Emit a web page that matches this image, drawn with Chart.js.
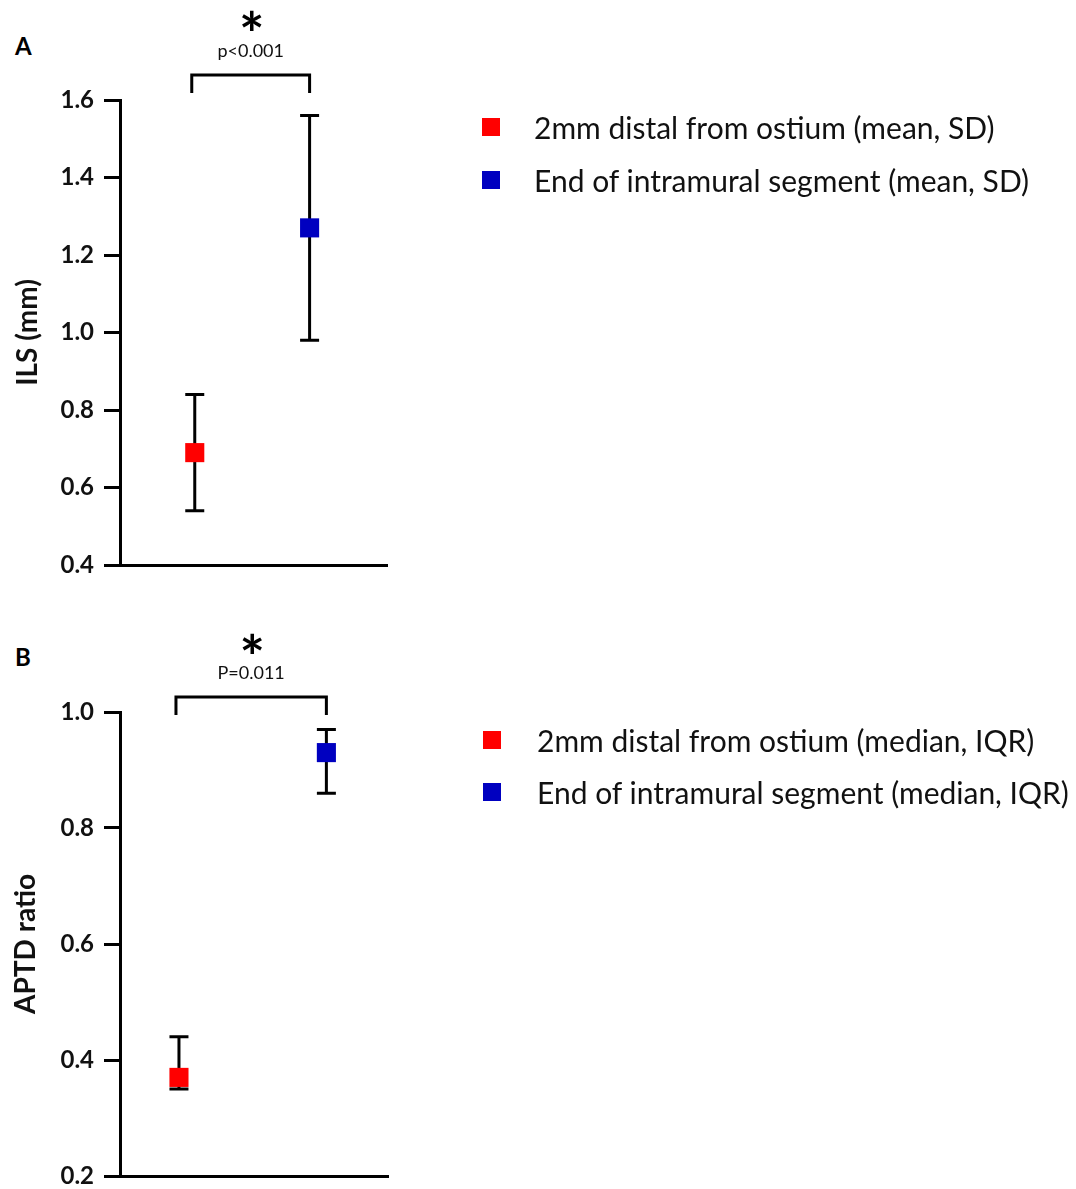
<!DOCTYPE html>
<html>
<head>
<meta charset="utf-8">
<script src="https://cdn.jsdelivr.net/npm/chart.js@4.4.1/dist/chart.umd.min.js"></script>
<style>
html,body{margin:0;padding:0;background:#fff;}
#wrap{position:relative;width:1076px;height:1189px;overflow:hidden;font-family:Lato, "Open Sans", sans-serif;background:#fff;}
canvas{position:absolute;left:0;}
.row{position:absolute;display:flex;align-items:center;height:40px;font-size:30px;color:#111;white-space:nowrap;}
.sw{width:18px;height:18px;flex:none;}
.panel{position:absolute;font-weight:bold;font-size:24px;color:#000;line-height:1;}
</style>
</head>
<body>
<div id="wrap">
  <div class="panel" style="left:15px;top:34px;">A</div>
  <div class="panel" style="left:15px;top:645px;">B</div>
  <canvas id="cA" width="1076" height="595" style="top:0;"></canvas>
  <canvas id="cB" width="1076" height="625" style="top:595px;"></canvas>
  <div id="legA"></div>
  <div id="legB"></div>
</div>
<script>
// ---- data ----
const categories = ['2mm distal from ostium', 'End of intramural segment'];
const seriesColors = ['#ff0000', '#0000c0'];

const ilsMean = [0.69, 1.27];
const ilsSdLow = [0.54, 0.98];
const ilsSdHigh = [0.84, 1.56];
const ilsTicks = [0.4, 0.6, 0.8, 1.0, 1.2, 1.4, 1.6];

const aptdMedian = [0.37, 0.93];
const aptdIqrLow = [0.35, 0.86];
const aptdIqrHigh = [0.44, 0.97];
const aptdTicks = [0.2, 0.4, 0.6, 0.8, 1.0];

const legendA = ['2mm distal from ostium (mean, SD)', 'End of intramural segment (mean, SD)'];
const legendB = ['2mm distal from ostium (median, IQR)', 'End of intramural segment (median, IQR)'];
const pValueA = 'p<0.001';
const pValueB = 'P=0.011';
const yTitleA = 'ILS (mm)';
const yTitleB = 'APTD ratio';

// ---- helpers ----
function errorBarPlugin(lows, highs) {
  return {
    id: 'errorBars',
    beforeDatasetsDraw(chart) {
      const ctx = chart.ctx, xs = chart.scales.x, ys = chart.scales.y;
      ctx.save();
      ctx.strokeStyle = '#000';
      ctx.lineWidth = 3;
      ctx.lineCap = 'butt';
      lows.forEach((lo, i) => {
        const x = xs.getPixelForValue(i + 1);
        const yl = ys.getPixelForValue(lo), yh = ys.getPixelForValue(highs[i]);
        ctx.beginPath();
        ctx.moveTo(x, yl); ctx.lineTo(x, yh);
        ctx.moveTo(x - 9.5, yl); ctx.lineTo(x + 9.5, yl);
        ctx.moveTo(x - 9.5, yh); ctx.lineTo(x + 9.5, yh);
        ctx.stroke();
      });
      ctx.restore();
    }
  };
}

function bracketPlugin(text, off) {
  return {
    id: 'sigBracket',
    afterDraw(chart) {
      const ctx = chart.ctx, xs = chart.scales.x, ca = chart.chartArea;
      const x1 = xs.getPixelForValue(1) - 3, x2 = xs.getPixelForValue(2);
      const yTop = ca.top + off.top, yLeg = ca.top + off.leg;
      ctx.save();
      ctx.strokeStyle = '#000';
      ctx.lineWidth = 3;
      ctx.lineJoin = 'miter';
      ctx.beginPath();
      ctx.moveTo(x1, yLeg); ctx.lineTo(x1, yTop); ctx.lineTo(x2, yTop); ctx.lineTo(x2, yLeg);
      ctx.stroke();
      const cx = (x1 + x2) / 2;
      ctx.fillStyle = '#111';
      ctx.textAlign = 'center';
      ctx.textBaseline = 'middle';
      ctx.font = '18px Lato';
      ctx.fillText(text, cx, ca.top + off.text);
      ctx.font = 'bold 60px Lato';
      ctx.textBaseline = 'alphabetic';
      const m = ctx.measureText('*');
      const yc = ca.top + off.star;
      ctx.fillStyle = '#000';
      ctx.fillText('*', cx + 1, yc + (m.actualBoundingBoxAscent - m.actualBoundingBoxDescent) / 2);
      ctx.restore();
    }
  };
}

function makeChart(id, cfg) {
  const datasets = categories.map((c, i) => ({
    label: c,
    data: [{ x: i + 1, y: cfg.values[i] }],
    pointStyle: 'rect',
    pointRadius: 13.5,
    pointBorderWidth: 0,
    backgroundColor: seriesColors[i],
    borderColor: seriesColors[i],
    showLine: false
  }));
  return new Chart(document.getElementById(id), {
    type: 'scatter',
    data: { datasets },
    options: {
      responsive: false,
      animation: false,
      devicePixelRatio: 1,
      layout: { padding: cfg.padding },
      plugins: { legend: { display: false }, tooltip: { enabled: false } },
      scales: {
        x: {
          type: 'linear', min: cfg.xMin, max: cfg.xMax,
          ticks: { display: false },
          grid: { display: false },
          border: { display: true, color: '#000', width: 3 },
          afterFit: s => { s.height = 0; }
        },
        y: {
          type: 'linear', min: cfg.ticks[0], max: cfg.ticks[cfg.ticks.length - 1],
          afterBuildTicks: s => { s.ticks = cfg.ticks.map(v => ({ value: v })); },
          afterFit: s => { s.width = 120; },
          ticks: {
            callback: v => Number(v).toFixed(1),
            color: '#111',
            padding: 10,
            font: { family: 'Lato', size: 24, weight: 'bold' }
          },
          grid: { drawOnChartArea: false, drawTicks: true, tickLength: 16, color: '#000', lineWidth: 3 },
          border: { display: true, color: '#000', width: 3 },
          title: {
            display: true, text: cfg.title, color: '#111',
            font: { family: 'Lato', size: 28, weight: 'bold' },
            padding: { top: cfg.titlePad, bottom: 0 }
          }
        }
      }
    },
    plugins: [errorBarPlugin(cfg.lows, cfg.highs), bracketPlugin(cfg.p, cfg.off)]
  });
}

function makeLegend(elId, labels, tops, swLeft, gap) {
  const el = document.getElementById(elId);
  labels.forEach((t, i) => {
    const row = document.createElement('div');
    row.className = 'row';
    row.style.left = swLeft + 'px';
    row.style.top = (tops[i] - 20) + 'px';
    const sw = document.createElement('div');
    sw.className = 'sw';
    sw.style.background = seriesColors[i];
    sw.style.marginRight = gap + 'px';
    const tx = document.createElement('span');
    tx.textContent = t;
    row.appendChild(sw); row.appendChild(tx);
    el.appendChild(row);
  });
}

makeChart('cA', {
  values: ilsMean, lows: ilsSdLow, highs: ilsSdHigh, ticks: ilsTicks,
  title: yTitleA, titlePad: 11,
  padding: { top: 100, bottom: 30, left: 0, right: 689 },
  xMin: 0.349, xMax: 2.674,
  p: pValueA, off: { top: -25, leg: -7, text: -49, star: -80 }
});
makeChart('cB', {
  values: aptdMedian, lows: aptdIqrLow, highs: aptdIqrHigh, ticks: aptdTicks,
  title: yTitleB, titlePad: 9,
  padding: { top: 117, bottom: 44, left: 0, right: 688 },
  xMin: 0.6, xMax: 2.418,
  p: pValueB, off: { top: -15, leg: 3, text: -39, star: -69 }
});
makeLegend('legA', legendA, [127, 180], 482, 34);
makeLegend('legB', legendB, [740, 792], 483, 36);
</script>
</body>
</html>
